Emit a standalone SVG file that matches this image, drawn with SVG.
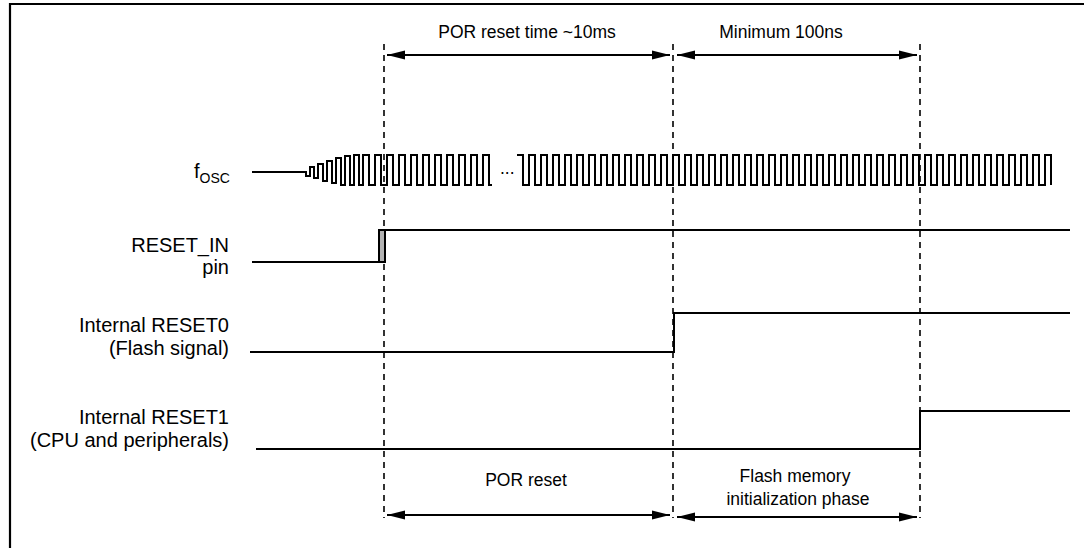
<svg xmlns="http://www.w3.org/2000/svg" width="1084" height="548" viewBox="0 0 1084 548">
  <style>
    .lbl { font-family: "Liberation Sans", Arial, sans-serif; font-size: 17.5px; fill: #000; }
    .side { font-family: "Liberation Sans", Arial, sans-serif; font-size: 20px; fill: #000; text-anchor: end; }
    .sig { fill: none; stroke: #000; stroke-width: 2; }
    .guide { fill: none; stroke: #000; stroke-width: 1.6; stroke-dasharray: 6 5; }
    .dim { fill: none; stroke: #000; stroke-width: 2; marker-start: url(#ah); marker-end: url(#ah); }
  </style>
  <defs>
    <marker id="ah" viewBox="0 0 18 10" refX="18" refY="5" markerWidth="18" markerHeight="10" markerUnits="userSpaceOnUse" orient="auto-start-reverse">
      <path d="M0,0.5 L18,5 L0,9.5 Z" fill="#000"/>
    </marker>
  </defs>
  <rect width="1084" height="548" fill="#fff"/>

  <!-- frame -->
  <path d="M10,548 V4 H1084" fill="none" stroke="#000" stroke-width="2.2"/>

  <!-- time markers -->
  <g id="guides">
    <line class="guide" x1="384" y1="44" x2="384" y2="518"/>
    <line class="guide" x1="673" y1="44" x2="673" y2="518"/>
    <line class="guide" x1="920" y1="44" x2="920" y2="518"/>
  </g>

  <!-- oscillator -->
  <g id="fosc">
    <text class="side" x="230" y="178" style="text-anchor:start" dx="-36">f<tspan font-size="14" dy="5">OSC</tspan></text>
    <path class="sig" d="M252,172 H306 V176 H310 V167 H314 V178 H318 V164 H323 V181 H327 V161 H332 V183 H336 V158 H341 V185 H345 V156 H350 V185 H354 V155 H359 V185 H363 V155
      h6v30h6v-30 h6v30h6v-30 h6v30h6v-30 h6v30h6v-30 h6v30h6v-30 h6v30h6v-30 h6v30h6v-30 h6v30h6v-30 h6v30h6v-30 h6v30h6v-30 h6v30 H492"/>
    <text class="lbl" x="500" y="174" font-size="12">...</text>
    <path class="sig" d="M517,155
      h6v30h6v-30 h6v30h6v-30 h6v30h6v-30 h6v30h6v-30 h6v30h6v-30 h6v30h6v-30 h6v30h6v-30 h6v30h6v-30 h6v30h6v-30
      h6v30h6v-30 h6v30h6v-30 h6v30h6v-30 h6v30h6v-30 h6v30h6v-30 h6v30h6v-30 h6v30h6v-30 h6v30h6v-30 h6v30h6v-30 h6v30h6v-30
      h6v30h6v-30 h6v30h6v-30 h6v30h6v-30 h6v30h6v-30 h6v30h6v-30 h6v30h6v-30 h6v30h6v-30 h6v30h6v-30 h6v30h6v-30 h6v30h6v-30
      h6v30h6v-30 h6v30h6v-30 h6v30h6v-30 h6v30h6v-30 h6v30h6v-30 h6v30h6v-30 h6v30h6v-30 h6v30h6v-30 h6v30h6v-30 h6v30h6v-30
      h6v30h6v-30 h6v30h6v-30 h6v30h6v-30 h6v30h6v-30 h6v30h6v-30 h6v30"/>
  </g>

  <!-- RESET_IN pin -->
  <g id="reset-in">
    <text class="side" x="229" y="252">RESET_IN</text>
    <text class="side" x="229" y="274">pin</text>
    <path class="sig" d="M252,262 H380"/>
    <rect x="379" y="230" width="6" height="32" fill="#b3b3b3" stroke="#000" stroke-width="2"/>
    <path class="sig" d="M385,230 H1070"/>
  </g>

  <!-- Internal RESET0 -->
  <g id="reset0">
    <text class="side" x="229" y="332">Internal RESET0</text>
    <text class="side" x="229" y="355">(Flash signal)</text>
    <path class="sig" d="M250,352 H674 V313 H1070"/>
  </g>

  <!-- Internal RESET1 -->
  <g id="reset1">
    <text class="side" x="229" y="424">Internal RESET1</text>
    <text class="side" x="229" y="447">(CPU and peripherals)</text>
    <path class="sig" d="M256,449 H920 V411 H1070"/>
  </g>

  <!-- interval annotations -->
  <g id="intervals">
    <path class="dim" d="M387,55 H670"/>
    <path class="dim" d="M677,55 H917"/>
    <path class="dim" d="M387,515 H670"/>
    <path class="dim" d="M677,517 H917"/>
    <text class="lbl" text-anchor="middle" x="527" y="38">POR reset time ~10ms</text>
    <text class="lbl" text-anchor="middle" x="781" y="38">Minimum 100ns</text>
    <text class="lbl" text-anchor="middle" x="526" y="486">POR reset</text>
    <text class="lbl" text-anchor="middle" x="795" y="482">Flash memory</text>
    <text class="lbl" text-anchor="middle" x="798" y="505">initialization phase</text>
  </g>
</svg>
